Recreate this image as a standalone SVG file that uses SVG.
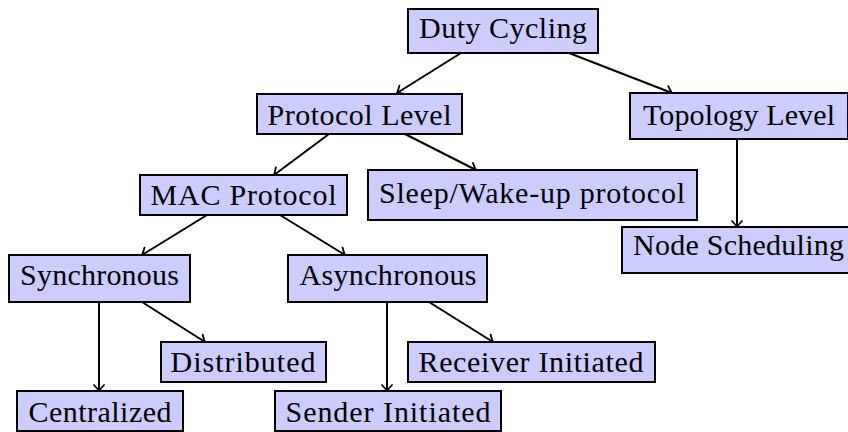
<svg xmlns="http://www.w3.org/2000/svg" width="848" height="432" viewBox="0 0 848 432">
<defs>
<style>
.box{fill:#ccccff;stroke:#000;stroke-width:2}
.lbl{font-family:"Liberation Serif","Times New Roman",serif;font-size:30px;fill:#000;text-anchor:middle}
.edge{stroke:#000;stroke-width:2;fill:none;marker-end:url(#arr)}
</style>
<marker id="arr" markerUnits="userSpaceOnUse" viewBox="-10 -8 12 16" refX="0" refY="0" markerWidth="12" markerHeight="16" orient="auto" overflow="visible">
<path d="M -6 -5 Q -2 -1.2 0 0 Q -2 1.2 -6 5" fill="none" stroke="#000" stroke-width="1.8" stroke-linecap="round"/>
</marker>
</defs>
<rect width="848" height="432" fill="#fff"/>
<g id="connectors">
<line class="edge" x1="461" y1="53" x2="397" y2="93"/>
<line class="edge" x1="569" y1="53" x2="672" y2="93"/>
<line class="edge" x1="329" y1="134" x2="274" y2="175"/>
<line class="edge" x1="405" y1="134" x2="476" y2="170"/>
<line class="edge" x1="737" y1="139" x2="737" y2="227"/>
<line class="edge" x1="207" y1="215" x2="142" y2="255"/>
<line class="edge" x1="280" y1="215" x2="345" y2="255"/>
<line class="edge" x1="99" y1="302" x2="99" y2="391"/>
<line class="edge" x1="142" y1="302" x2="205" y2="342"/>
<line class="edge" x1="387" y1="302" x2="387" y2="391"/>
<line class="edge" x1="429" y1="302" x2="493" y2="342"/>
</g>
<g id="duty-cycling"><rect class="box" x="408" y="9" width="190" height="44"/><text class="lbl" x="503" y="37.5" textLength="168" lengthAdjust="spacing">Duty Cycling</text></g>
<g id="protocol-level"><rect class="box" x="257" y="94" width="205" height="40"/><text class="lbl" x="359.5" y="125" textLength="184" lengthAdjust="spacing">Protocol Level</text></g>
<g id="topology-level"><rect class="box" x="630" y="93" width="218" height="46"/><text class="lbl" x="739" y="125" textLength="192" lengthAdjust="spacing">Topology Level</text></g>
<g id="mac-protocol"><rect class="box" x="140" y="175" width="207" height="40"/><text class="lbl" x="243.5" y="205" textLength="186" lengthAdjust="spacing">MAC Protocol</text></g>
<g id="sleep-wakeup"><rect class="box" x="368" y="170" width="329" height="50"/><text class="lbl" x="532" y="203" textLength="306" lengthAdjust="spacing">Sleep/Wake-up protocol</text></g>
<g id="node-scheduling"><rect class="box" x="622" y="227" width="233" height="46"/><text class="lbl" x="738.5" y="255" textLength="211" lengthAdjust="spacing">Node Scheduling</text></g>
<g id="synchronous"><rect class="box" x="9" y="255" width="181" height="47"/><text class="lbl" x="99.5" y="285" textLength="159" lengthAdjust="spacing">Synchronous</text></g>
<g id="asynchronous"><rect class="box" x="288" y="255" width="199" height="47"/><text class="lbl" x="388" y="285" textLength="177" lengthAdjust="spacing">Asynchronous</text></g>
<g id="distributed"><rect class="box" x="161" y="342" width="165" height="40"/><text class="lbl" x="243" y="371.5" textLength="145" lengthAdjust="spacing">Distributed</text></g>
<g id="receiver-initiated"><rect class="box" x="408" y="342" width="247" height="40"/><text class="lbl" x="531" y="371.5" textLength="225" lengthAdjust="spacing">Receiver Initiated</text></g>
<g id="centralized"><rect class="box" x="17" y="391" width="166" height="40"/><text class="lbl" x="100" y="421.5" textLength="143" lengthAdjust="spacing">Centralized</text></g>
<g id="sender-initiated"><rect class="box" x="275" y="391" width="226" height="40"/><text class="lbl" x="388" y="421.5" textLength="205" lengthAdjust="spacing">Sender Initiated</text></g>
</svg>
